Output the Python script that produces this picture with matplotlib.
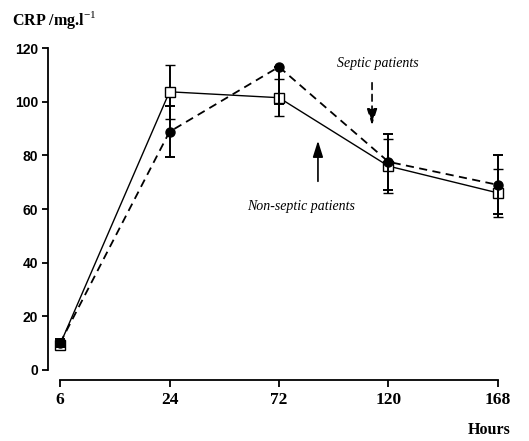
import numpy as np
import matplotlib.pyplot as plt

plt.rcParams["mathtext.fontset"] = "custom"
plt.rcParams["mathtext.rm"] = "Liberation Serif"
plt.rcParams["mathtext.bf"] = "Liberation Serif:bold"

# données
hours = ["6", "24", "72", "120", "168"]
septic = [10, 88.8, 113, 77.6, 69]
septic_err_lo = [1.5, 9.5, 14, 10.4, 11]
septic_err_hi = [1.5, 9.5, 0, 10.4, 11]
nonseptic = [9.5, 103.7, 101.5, 76, 66]
nonseptic_err = [1.5, 10, 7, 10, 9]
yticks = [0, 20, 40, 60, 80, 100, 120]

x = np.arange(len(hours))

fig = plt.figure(figsize=(5.29, 4.41), dpi=100)
ax = fig.add_axes([0.0907, 0.161, 0.863, 0.730])

# non-septic : trait plein, carrés vides
ax.errorbar(x, nonseptic, yerr=nonseptic_err, color="black", lw=1.0,
            marker="s", ms=6.5, mfc="white", mec="black", mew=1.0,
            elinewidth=1.4, capsize=3.5, capthick=1.4, clip_on=False, zorder=3)

# septic : tirets, cercles pleins
ax.errorbar(x, septic, yerr=[septic_err_lo, septic_err_hi], color="black",
            lw=1.3, ls=(0, (4.5, 3)), marker="o", ms=6.5, mfc="black",
            elinewidth=1.4, capsize=3.5, capthick=1.4, clip_on=False, zorder=4)

ax.set_xlim(-0.11, 4.06)
ax.set_ylim(0, 120)

ax.spines["top"].set_visible(False)
ax.spines["right"].set_visible(False)
ax.spines["bottom"].set_position(("outward", 7))
ax.spines["bottom"].set_bounds(0, 4)
ax.spines["left"].set_linewidth(1.3)
ax.spines["bottom"].set_linewidth(1.3)

ax.set_xticks(x)
ax.set_xticklabels(hours, fontfamily="Liberation Serif", fontweight="bold", fontsize=12.5)
ax.set_yticks(yticks)
ax.set_yticklabels([str(v) for v in yticks], fontfamily="Liberation Sans",
                   fontweight="bold", fontsize=10)
ax.tick_params(axis="x", direction="out", length=5, width=1.3, pad=4)
ax.tick_params(axis="y", direction="out", length=4, width=1.3, pad=3)

# flèches et légendes dans le graphe
head = "-|>,head_length=0.7,head_width=0.22"
ax.annotate("", xy=(2.85, 90.2), xytext=(2.85, 108.1),
            arrowprops=dict(arrowstyle=head, lw=1.2, ls=(0, (4, 3)),
                            color="black", mutation_scale=14))
ax.annotate("", xy=(2.356, 86.5), xytext=(2.356, 69.3),
            arrowprops=dict(arrowstyle=head, lw=1.2, color="black",
                            mutation_scale=14))
ax.text(2.9, 114.4, "Septic patients", fontfamily="Liberation Serif",
        style="italic", fontsize=10, ha="center", va="center")
ax.text(2.2, 60.8, "Non-septic patients", fontfamily="Liberation Serif",
        style="italic", fontsize=10, ha="center", va="center")

fig.text(0.023, 0.955, "CRP /mg.l$^{\\mathrm{-1}}$", fontfamily="Liberation Serif",
         fontweight="bold", fontsize=11.5, ha="left", va="center")
fig.text(0.965, 0.025, "Hours", fontfamily="Liberation Serif",
         fontweight="bold", fontsize=11.5, ha="right", va="center")

fig.savefig("out.png", dpi=100)
